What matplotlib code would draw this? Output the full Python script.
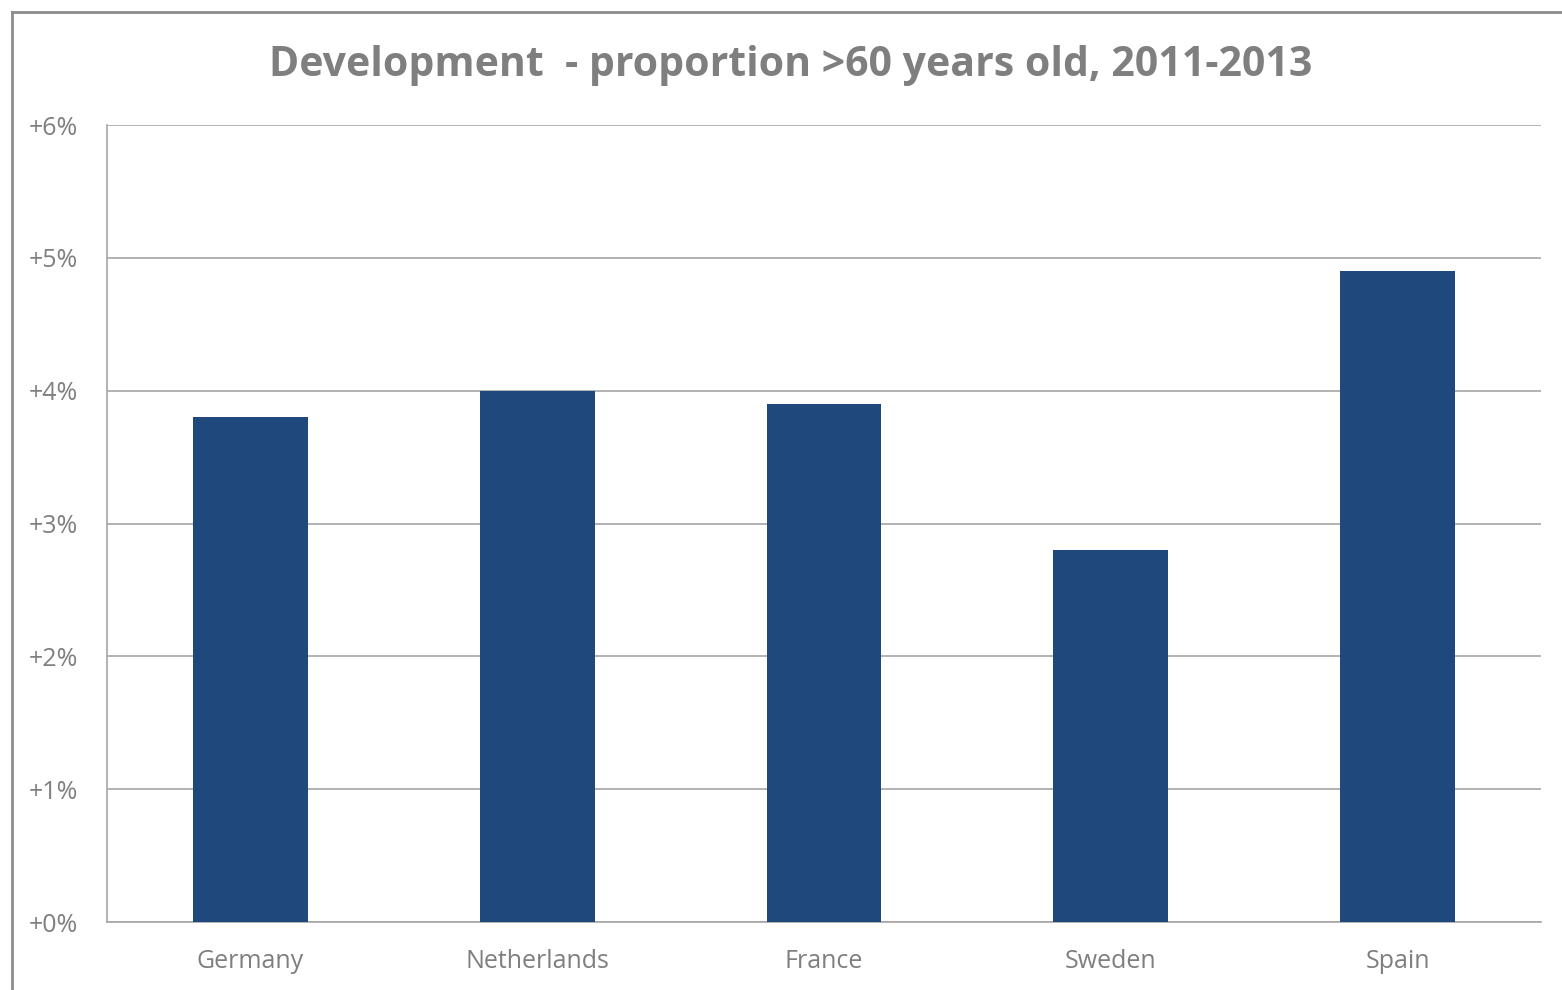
import matplotlib
matplotlib.use("Agg")
import matplotlib.pyplot as plt
from matplotlib.lines import Line2D

countries = ["Germany", "Netherlands", "France", "Sweden", "Spain"]
change_pct = [3.8, 4.0, 3.9, 2.8, 4.9]
y_ticks = [0, 1, 2, 3, 4, 5, 6]
y_tick_labels = ["+0%", "+1%", "+2%", "+3%", "+4%", "+5%", "+6%"]

W, H = 1562, 990
fig = plt.figure(figsize=(W / 100, H / 100), dpi=100)
fig.patch.set_facecolor("white")

ax = fig.add_axes([107 / W, (H - 922) / H, 1434 / W, 797 / H])

bar_color = "#1F497D"
grid_color = "#A6A6A6"
text_color = "#7F7F7F"
font = ["Open Sans", "DejaVu Sans"]

x = range(len(countries))
ax.bar(x, change_pct, width=0.4, color=bar_color, zorder=3)

ax.set_xlim(-0.5, len(countries) - 0.5)
ax.set_ylim(0, 6)
ax.set_yticks(y_ticks)
ax.set_yticklabels(y_tick_labels)
ax.set_xticks(list(x))
ax.set_xticklabels(countries)

ax.yaxis.grid(True, color=grid_color, linewidth=1.2, zorder=0)
ax.set_axisbelow(True)
for side in ("top", "right"):
    ax.spines[side].set_visible(False)
for side in ("left", "bottom"):
    ax.spines[side].set_color(grid_color)
    ax.spines[side].set_linewidth(1.2)

ax.tick_params(axis="both", length=0, colors=text_color, labelsize=18)
ax.tick_params(axis="y", pad=21)
ax.tick_params(axis="x", pad=19.5)
for lab in ax.get_xticklabels() + ax.get_yticklabels():
    lab.set_family(font)
    lab.set_color(text_color)

fig.text(791 / W, 1 - 65 / H, "Development  - proportion >60 years old, 2011-2013",
         ha="center", va="center", fontsize=29.5, fontweight="bold",
         color=text_color, family=font)

# outer chart border (left and top edges)
frame_color = "#8C8C8C"
fig.add_artist(Line2D([11.5 / W, 11.5 / W], [0, 1 - 11.5 / H],
                      transform=fig.transFigure, color=frame_color, linewidth=2))
fig.add_artist(Line2D([11.5 / W, 1], [1 - 11.5 / H, 1 - 11.5 / H],
                      transform=fig.transFigure, color=frame_color, linewidth=2))

fig.savefig("out.png", dpi=100, facecolor="white")
